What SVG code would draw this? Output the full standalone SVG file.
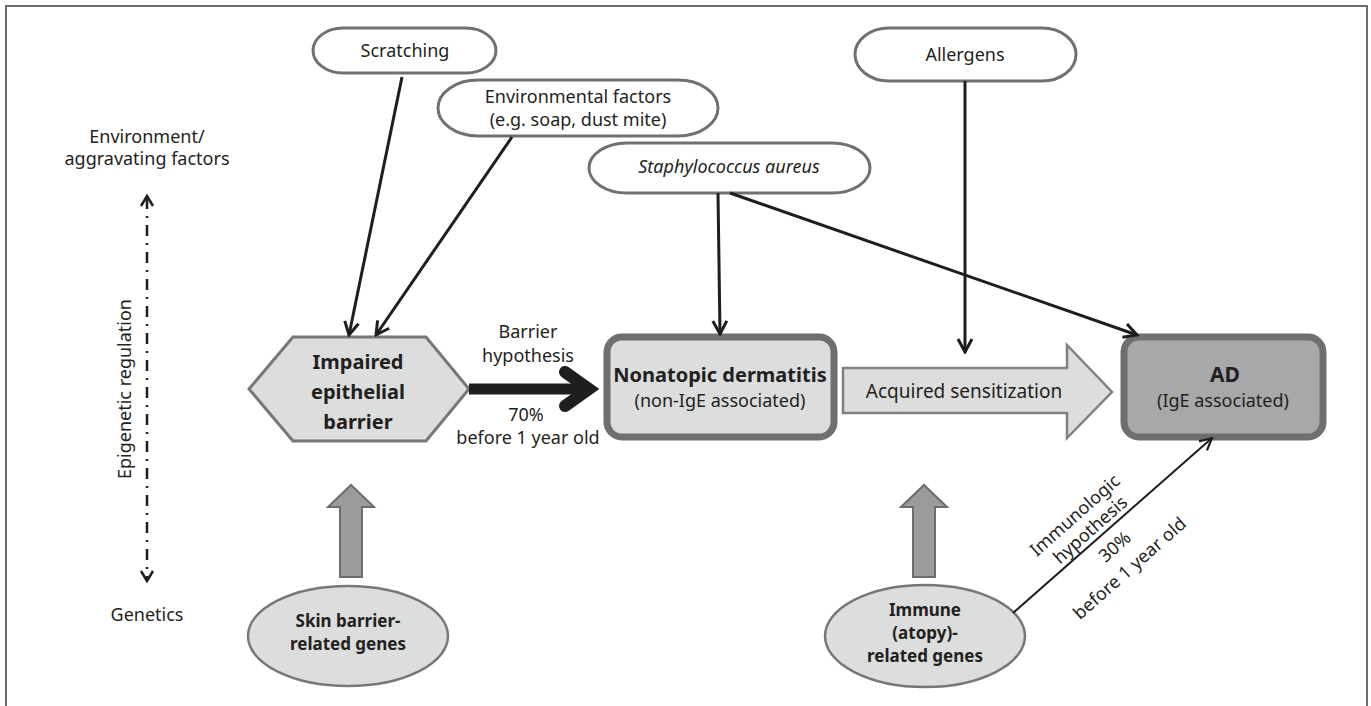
<svg xmlns="http://www.w3.org/2000/svg" width="1371" height="706" viewBox="0 0 1371 706">
<style>
text{font-family:"Noto Sans","Open Sans","Liberation Sans",sans-serif;fill:#231f20;text-anchor:middle}
.n{font-size:18px}
.b{font-size:20px;font-weight:bold}
.bs{font-size:17px;font-weight:bold}
.pill{fill:#fff;stroke:#707070;stroke-width:3}
.box{stroke:#6f6f6f;stroke-width:7}
.ln{stroke:#1e1e1e;stroke-width:3;fill:none;marker-end:url(#ah)}
.garrow{fill:#9a9b9d;stroke:#6d6d6d;stroke-width:2}
.ell{fill:#dcdddd;stroke:#777;stroke-width:2.5}
</style>
<defs>
<marker id="ah" markerUnits="userSpaceOnUse" viewBox="0 0 18 18" refX="16" refY="9" markerWidth="18" markerHeight="18" orient="auto">
<path d="M3,2 L16,9 L3,16" fill="none" stroke="#1e1e1e" stroke-width="3"/>
</marker>
<marker id="ah2" markerUnits="userSpaceOnUse" viewBox="0 0 18 18" refX="16" refY="9" markerWidth="18" markerHeight="18" orient="auto">
<path d="M4,3 L16,9 L4,15" fill="none" stroke="#1e1e1e" stroke-width="2.2"/>
</marker>
</defs>
<rect x="6" y="6" width="1361" height="710" fill="#fff" stroke="#6d6d6d" stroke-width="2"/>

<g id="axis">
<text class="n" x="147" y="143">Environment/</text>
<text class="n" x="147" y="165">aggravating factors</text>
<text class="n" x="147" y="621">Genetics</text>
<text class="n" transform="translate(131,389) rotate(-90)" x="0" y="0">Epigenetic regulation</text>
<line x1="147" y1="198" x2="147" y2="579" stroke="#1e1e1e" stroke-width="2.5" stroke-dasharray="11 7 2 7"/>
<path d="M141,206 L147,196 L153,206" fill="none" stroke="#1e1e1e" stroke-width="2.5"/>
<path d="M141,571 L147,581 L153,571" fill="none" stroke="#1e1e1e" stroke-width="2.5"/>
</g>

<g id="scratching">
<rect class="pill" x="313" y="28" width="183" height="45" rx="30" ry="22.5"/>
<text class="n" x="405" y="57">Scratching</text>
</g>
<g id="environmental">
<rect class="pill" x="438" y="80" width="280" height="56" rx="40" ry="28"/>
<text class="n" x="578" y="103">Environmental factors</text>
<text class="n" x="578" y="126">(e.g. soap, dust mite)</text>
</g>
<g id="staph">
<rect class="pill" x="589" y="143" width="281" height="50" rx="38" ry="25"/>
<text class="n" x="729" y="173" font-style="italic">Staphylococcus aureus</text>
</g>
<g id="allergens">
<rect class="pill" x="855" y="28" width="221" height="53" rx="34" ry="26.5"/>
<text class="n" x="965" y="61">Allergens</text>
</g>

<g id="barrier">
<polygon points="249,389 293,337 426,337 469,389 426,441 293,441" fill="#dcdddd" stroke="#777" stroke-width="3"/>
<text class="b" x="358" y="369">Impaired</text>
<text class="b" x="358" y="399">epithelial</text>
<text class="b" x="358" y="429">barrier</text>
</g>

<g id="nonatopic">
<rect class="box" x="607" y="337" width="227" height="100" rx="15" fill="#dcdddd"/>
<text class="b" x="720" y="382">Nonatopic dermatitis</text>
<text class="n" x="720" y="407">(non-IgE associated)</text>
</g>

<g id="ad">
<rect class="box" x="1124" y="337" width="199" height="100" rx="15" fill="#a7a8aa"/>
<text class="b" x="1225" y="382" style="font-size:21px">AD</text>
<text class="n" x="1223" y="407">(IgE associated)</text>
</g>

<g id="acquired">
<polygon points="843,368 1067,368 1067,345 1112,392 1067,438 1067,413 843,413" fill="#dcdddd" stroke="#808080" stroke-width="2.5"/>
<text class="n" x="964" y="398" style="font-size:19px">Acquired sensitization</text>
</g>

<g id="skin-genes">
<path class="garrow" d="M340,577 L340,507 L328,507 L351,485 L374,507 L362,507 L362,577 Z"/>
<ellipse class="ell" cx="348" cy="636" rx="100" ry="50"/>
<text class="bs" x="348" y="627">Skin barrier-</text>
<text class="bs" x="348" y="650">related genes</text>
</g>

<g id="immune-genes">
<path class="garrow" d="M913,577 L913,507 L901,507 L924,485 L947,507 L935,507 L935,577 Z"/>
<ellipse class="ell" cx="925" cy="636" rx="100" ry="51"/>
<text class="bs" x="925" y="616">Immune</text>
<text class="bs" x="925" y="639">(atopy)-</text>
<text class="bs" x="925" y="662">related genes</text>
</g>

<g id="connectors">
<line class="ln" x1="402" y1="77" x2="349" y2="335"/>
<line class="ln" x1="512" y1="137" x2="376" y2="335"/>
<line class="ln" x1="718" y1="193" x2="720" y2="334"/>
<line class="ln" x1="730" y1="193" x2="1137" y2="335"/>
<line class="ln" x1="965" y1="81" x2="965" y2="352"/>
<line x1="1013" y1="613" x2="1212" y2="438" stroke="#1e1e1e" stroke-width="2" marker-end="url(#ah2)"/>
<line x1="469" y1="389" x2="590" y2="389" stroke="#1e1e1e" stroke-width="11"/>
<path d="M565,372 L589,389 L565,406" fill="none" stroke="#1e1e1e" stroke-width="12" stroke-linecap="round" stroke-linejoin="miter"/>
<text class="n" x="528" y="338">Barrier</text>
<text class="n" x="528" y="362">hypothesis</text>
<text class="n" x="526" y="421">70%</text>
<text class="n" x="528" y="444">before 1 year old</text>
<g transform="translate(1013,613) rotate(-41.5)">
<text class="n" x="111" y="-26">Immunologic</text>
<text class="n" x="113" y="-5">hypothesis</text>
<text class="n" x="120" y="24">30%</text>
<text class="n" x="117" y="50">before 1 year old</text>
</g>
</g>
</svg>
